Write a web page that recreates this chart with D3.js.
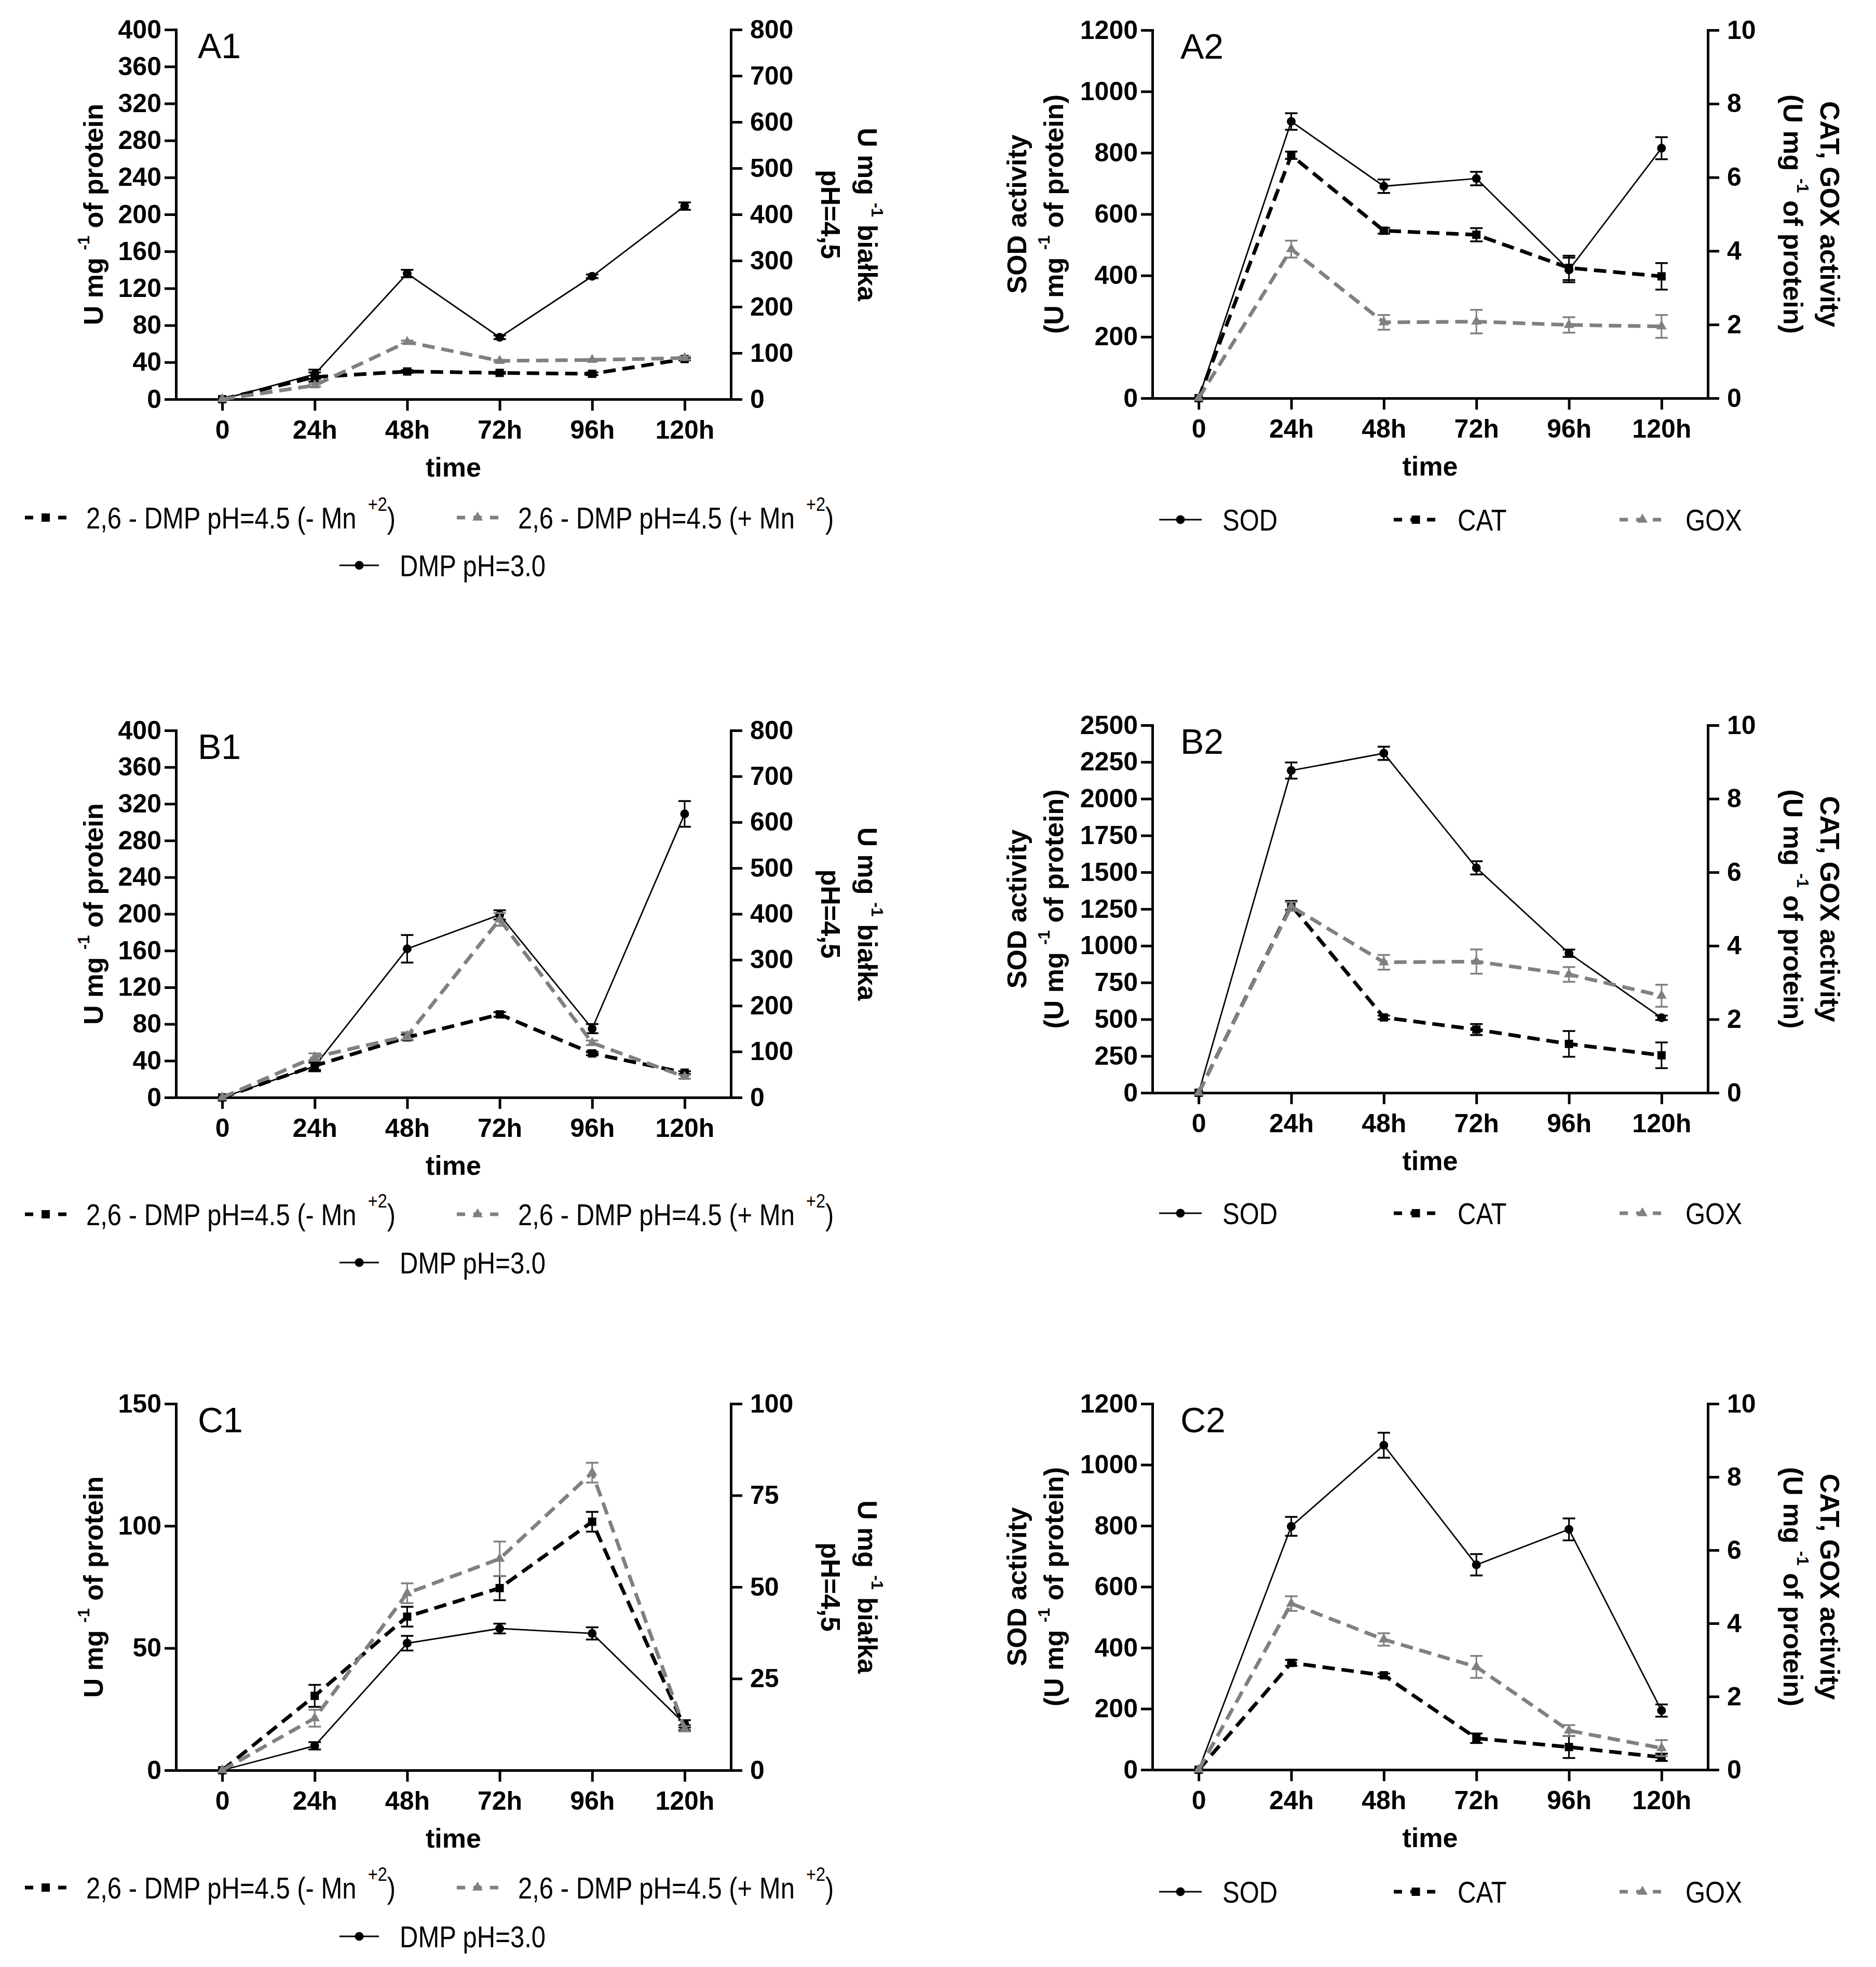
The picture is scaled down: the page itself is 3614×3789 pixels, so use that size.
<!DOCTYPE html>
<html><head><meta charset="utf-8">
<script src="https://cdn.jsdelivr.net/npm/d3@7"></script>
<style>body{margin:0;background:#fff} svg{display:block}</style>
</head><body>
<svg id="chart" width="3614" height="3789"></svg>
<script>
const categories = ["0","24h","48h","72h","96h","120h"];

// ---- tick labels ----
const dmpLeftTicks = [0,40,80,120,160,200,240,280,320,360,400];
const dmpRightTicks = [0,100,200,300,400,500,600,700,800];
const c1LeftTicks = [0,50,100,150];
const c1RightTicks = [0,25,50,75,100];
const sodTicks1200 = [0,200,400,600,800,1000,1200];
const sodTicks2500 = [0,250,500,750,1000,1250,1500,1750,2000,2250,2500];
const enzRightTicks = [0,2,4,6,8,10];

// ---- A1 (DMP pH=3.0 on left axis, 2,6-DMP pH=4.5 on right axis) ----
const a1Ph3 = [0, 27, 136, 67, 133, 209];
const a1Ph3Err = [0, 5, 4, 2, 2, 4];
const a1MinusMn = [0, 48, 60, 57, 55, 87];
const a1MinusMnErr = [0, 10, 3, 2, 3, 3];
const a1PlusMn = [0, 30, 124, 83, 85, 89];
const a1PlusMnErr = [0, 3, 3, 2, 2, 3];

// ---- B1 ----
const b1Ph3 = [0, 34, 162, 199, 75, 309];
const b1Ph3Err = [0, 4, 15, 5, 5, 14];
const b1MinusMn = [0, 69, 131, 181, 96, 54];
const b1MinusMnErr = [0, 12, 6, 5, 4, 3];
const b1PlusMn = [0, 88, 134, 388, 119, 45];
const b1PlusMnErr = [0, 8, 8, 14, 5, 4];

// ---- C1 ----
const c1Ph3 = [0, 10, 52, 58, 56, 19];
const c1Ph3Err = [0, 1.5, 3, 2, 2.5, 1.5];
const c1MinusMn = [0, 20.3, 41.9, 49.7, 67.8, 11.6];
const c1MinusMnErr = [0, 3, 2.7, 3.3, 2.7, 0.7];
const c1PlusMn = [0, 14.2, 48.3, 57.7, 81.2, 11.3];
const c1PlusMnErr = [0, 2.3, 2.7, 4.7, 2.7, 0.7];

// ---- A2 (SOD left, CAT/GOX right) ----
const a2Sod = [0, 902, 691, 716, 418, 815];
const a2SodErr = [0, 27, 22, 22, 40, 36];
const a2Cat = [0, 6.6, 4.55, 4.44, 3.54, 3.31];
const a2CatErr = [0, 0.1, 0.08, 0.18, 0.33, 0.36];
const a2Gox = [0, 4.05, 2.06, 2.08, 1.99, 1.95];
const a2GoxErr = [0, 0.23, 0.2, 0.32, 0.21, 0.31];

// ---- B2 ----
const b2Sod = [0, 2192, 2309, 1530, 949, 510];
const b2SodErr = [0, 55, 45, 45, 25, 15];
const b2Cat = [0, 5.1, 2.05, 1.72, 1.33, 1.02];
const b2CatErr = [0, 0.12, 0.05, 0.15, 0.35, 0.35];
const b2Gox = [0, 5.07, 3.55, 3.57, 3.22, 2.64];
const b2GoxErr = [0, 0.12, 0.2, 0.33, 0.2, 0.3];

// ---- C2 ----
const c2Sod = [0, 798, 1064, 672, 788, 194];
const c2SodErr = [0, 31, 41, 35, 36, 20];
const c2Cat = [0, 2.92, 2.58, 0.86, 0.62, 0.34];
const c2CatErr = [0, 0.08, 0.05, 0.13, 0.3, 0.1];
const c2Gox = [0, 4.54, 3.56, 2.81, 1.07, 0.59];
const c2GoxErr = [0, 0.2, 0.17, 0.3, 0.15, 0.22];

// ---- legend labels ----
const labMinusMn = [{t:"2,6 - DMP pH=4.5 (- Mn "},{t:"+2",sup:true,dx:10},{t:")"}];
const labPlusMn = [{t:"2,6 - DMP pH=4.5 (+ Mn "},{t:"+2",sup:true,dx:10},{t:")"}];
const labPh3 = [{t:"DMP pH=3.0"}];
const labSod = [{t:"SOD"}], labCat = [{t:"CAT"}], labGox = [{t:"GOX"}];

// ---- styles ----
const GRAY = "#808080";
const FONT = "'Liberation Sans', Arial, sans-serif";
const styles = {
  solid: {color:"#000", width:2.8, dash:null, marker:"circle"},
  black: {color:"#000", width:7, dash:"24,13", marker:"square"},
  gray:  {color:GRAY, width:7, dash:"24,13", marker:"triangle"}
};

function dmpSeries(ph3, ph3e, mm, mme, pm, pme) {
  return [
    {label:labPh3, values:ph3, err:ph3e, axis:"left", style:"solid"},
    {label:labMinusMn, values:mm, err:mme, axis:"right", style:"black"},
    {label:labPlusMn, values:pm, err:pme, axis:"right", style:"gray"}
  ];
}
function enzSeries(s, se, c, ce, g, ge) {
  return [
    {label:labSod, values:s, err:se, axis:"left", style:"solid"},
    {label:labCat, values:c, err:ce, axis:"right", style:"black"},
    {label:labGox, values:g, err:ge, axis:"right", style:"gray"}
  ];
}

const cols = [{l:339, r:1408}, {l:2220, r:3290}];
const panels = [
  {label:"A1", kind:"dmp", col:0, top:57, bottom:769, legY:[997,1089], lMax:400, lTicks:dmpLeftTicks, rMax:800, rTicks:dmpRightTicks,
   series:dmpSeries(a1Ph3,a1Ph3Err,a1MinusMn,a1MinusMnErr,a1PlusMn,a1PlusMnErr)},
  {label:"B1", kind:"dmp", col:0, top:1407, bottom:2114, legY:[2339,2432], lMax:400, lTicks:dmpLeftTicks, rMax:800, rTicks:dmpRightTicks,
   series:dmpSeries(b1Ph3,b1Ph3Err,b1MinusMn,b1MinusMnErr,b1PlusMn,b1PlusMnErr)},
  {label:"C1", kind:"dmp", col:0, top:2704, bottom:3410, legY:[3636,3730], lMax:150, lTicks:c1LeftTicks, rMax:100, rTicks:c1RightTicks,
   series:dmpSeries(c1Ph3,c1Ph3Err,c1MinusMn,c1MinusMnErr,c1PlusMn,c1PlusMnErr)},
  {label:"A2", kind:"enz", col:1, top:58, bottom:767, legY:[1001], lMax:1200, lTicks:sodTicks1200, rMax:10, rTicks:enzRightTicks,
   series:enzSeries(a2Sod,a2SodErr,a2Cat,a2CatErr,a2Gox,a2GoxErr)},
  {label:"B2", kind:"enz", col:1, top:1397, bottom:2105, legY:[2337], lMax:2500, lTicks:sodTicks2500, rMax:10, rTicks:enzRightTicks,
   series:enzSeries(b2Sod,b2SodErr,b2Cat,b2CatErr,b2Gox,b2GoxErr)},
  {label:"C2", kind:"enz", col:1, top:2704, bottom:3409, legY:[3644], lMax:1200, lTicks:sodTicks1200, rMax:10, rTicks:enzRightTicks,
   series:enzSeries(c2Sod,c2SodErr,c2Cat,c2CatErr,c2Gox,c2GoxErr)}
];

const legendLayout = {
  dmp: [ // order: -Mn, +Mn, pH3
    {si:1, x1:48, x2:128, tx:166, row:0},
    {si:2, x1:880, x2:960, tx:998, row:0},
    {si:0, x1:654, x2:730, tx:770, row:1}
  ],
  enz: [
    {si:0, x1:2233, x2:2315, tx:2355, row:0},
    {si:1, x1:2685, x2:2770, tx:2808, row:0},
    {si:2, x1:3120, x2:3208, tx:3247, row:0}
  ]
};

const svg = d3.select("#chart");
svg.append("rect").attr("width",3614).attr("height",3789).attr("fill","#fff");

function addRich(textSel, parts, base, supScale, shift) {
  let raised = false;
  parts.forEach(p => {
    const ts = textSel.append("tspan").text(p.t);
    if (p.sup) {
      ts.attr("font-size", base*supScale);
      if (!raised) { ts.attr("dy", -base*shift); raised = true; }
      if (p.dx) ts.attr("dx", p.dx);
    } else if (raised) { ts.attr("dy", base*shift); raised = false; }
  });
}

function drawMarker(g, type, cx, cy, color) {
  if (type === "circle") {
    g.append("circle").attr("cx",cx).attr("cy",cy).attr("r",8.5).attr("fill",color);
  } else if (type === "square") {
    g.append("rect").attr("x",cx-8).attr("y",cy-8).attr("width",16).attr("height",16).attr("fill",color);
  } else {
    const s = 20, h = s*Math.sqrt(3)/2;
    g.append("path").attr("d",`M${cx},${cy-h*2/3}L${cx+s/2},${cy+h/3}L${cx-s/2},${cy+h/3}Z`).attr("fill",color);
  }
}

panels.forEach(p => {
  const c = cols[p.col];
  const g = svg.append("g");
  const x = d3.scaleLinear().domain([-0.5, 5.5]).range([c.l, c.r]);
  const yL = d3.scaleLinear().domain([0, p.lMax]).range([p.bottom, p.top]);
  const yR = d3.scaleLinear().domain([0, p.rMax]).range([p.bottom, p.top]);

  const styleAxis = (ag) => {
    ag.attr("font-family", FONT).attr("font-size", 50).attr("font-weight", "bold");
    ag.selectAll("path.domain").attr("stroke","#000").attr("stroke-width",5).attr("stroke-linecap","square");
    ag.selectAll(".tick line").attr("stroke","#000").attr("stroke-width",5);
    ag.selectAll(".tick text").attr("fill","#000");
  };
  const axL = g.append("g").attr("transform",`translate(${c.l},0)`)
    .call(d3.axisLeft(yL).tickValues(p.lTicks).tickFormat(d3.format("d")).tickSize(22).tickSizeOuter(0).tickPadding(6));
  styleAxis(axL);
  const axR = g.append("g").attr("transform",`translate(${c.r},0)`)
    .call(d3.axisRight(yR).tickValues(p.rTicks).tickFormat(d3.format("d")).tickSize(22).tickSizeOuter(0).tickPadding(15));
  styleAxis(axR);
  const axB = g.append("g").attr("transform",`translate(0,${p.bottom})`)
    .call(d3.axisBottom(x).tickValues(d3.range(categories.length)).tickFormat(i => categories[i]).tickSize(22).tickSizeOuter(0).tickPadding(18));
  styleAxis(axB);

  // panel label
  g.append("text").attr("x", p.col === 0 ? c.l + 42 : c.l + 54).attr("y", p.top + 55)
    .attr("font-family", FONT).attr("font-size", 68).text(p.label);

  // x title
  g.append("text").attr("x",(c.l+c.r)/2).attr("y",p.bottom+149).attr("text-anchor","middle")
    .attr("font-family",FONT).attr("font-size",52).attr("font-weight","bold").text("time");

  const cy = (p.top + p.bottom)/2;
  const title = (bx, rot, parts) => {
    const t = g.append("text").attr("transform",`translate(${bx},${cy}) rotate(${rot})`)
      .attr("text-anchor","middle").attr("font-family",FONT).attr("font-size",52).attr("font-weight","bold");
    addRich(t, parts, 52, 0.6, 0.5);
  };
  if (p.kind === "dmp") {
    title(198, -90, [{t:"U mg "},{t:"-1",sup:true},{t:"  of protein"}]);
    title(c.r + 245, 90, [{t:"U mg "},{t:"-1",sup:true},{t:"  białka"}]);
    title(c.r + 174, 90, [{t:"pH=4,5"}]);
  } else {
    title(1977, -90, [{t:"SOD activity"}]);
    title(2048, -90, [{t:"(U mg "},{t:"-1",sup:true},{t:"  of protein)"}]);
    title(3507, 90, [{t:"CAT, GOX activity"}]);
    title(3436, 90, [{t:"(U mg "},{t:"-1",sup:true},{t:"  of protein)"}]);
  }

  // series
  p.series.forEach(s => {
    const st = styles[s.style];
    const y = s.axis === "left" ? yL : yR;
    const sg = g.append("g");
    const line = d3.line().x((d,i) => x(i)).y(d => y(d));
    const path = sg.append("path").datum(s.values).attr("d", line)
      .attr("fill","none").attr("stroke",st.color).attr("stroke-width",st.width);
    if (st.dash) path.attr("stroke-dasharray", st.dash);
    s.values.forEach((v,i) => {
      const e = s.err[i];
      if (e > 0) {
        const y1 = y(v - e), y2 = y(v + e), xx = x(i);
        sg.append("line").attr("x1",xx).attr("x2",xx).attr("y1",y1).attr("y2",y2).attr("stroke",st.color).attr("stroke-width",3);
        [y1,y2].forEach(yy => sg.append("line").attr("x1",xx-12).attr("x2",xx+12).attr("y1",yy).attr("y2",yy).attr("stroke",st.color).attr("stroke-width",3.5));
      }
      drawMarker(sg, st.marker, x(i), y(v), st.color);
    });
  });

  // legend
  legendLayout[p.kind].forEach(item => {
    const s = p.series[item.si];
    const st = styles[s.style];
    const ly = p.legY[item.row];
    const ln = g.append("line").attr("x1",item.x1).attr("x2",item.x2).attr("y1",ly).attr("y2",ly)
      .attr("stroke",st.color).attr("stroke-width",st.width);
    if (st.dash) ln.attr("stroke-dasharray","16,16");
    drawMarker(g, st.marker, (item.x1+item.x2)/2, ly, st.color);
    const t = g.append("text").attr("transform",`translate(${item.tx},${ly}) scale(0.86,1)`)
      .attr("dy","0.36em").attr("font-family",FONT).attr("font-size",57);
    addRich(t, s.label, 57, 0.66, 0.58);
  });
});
</script>
</body></html>
